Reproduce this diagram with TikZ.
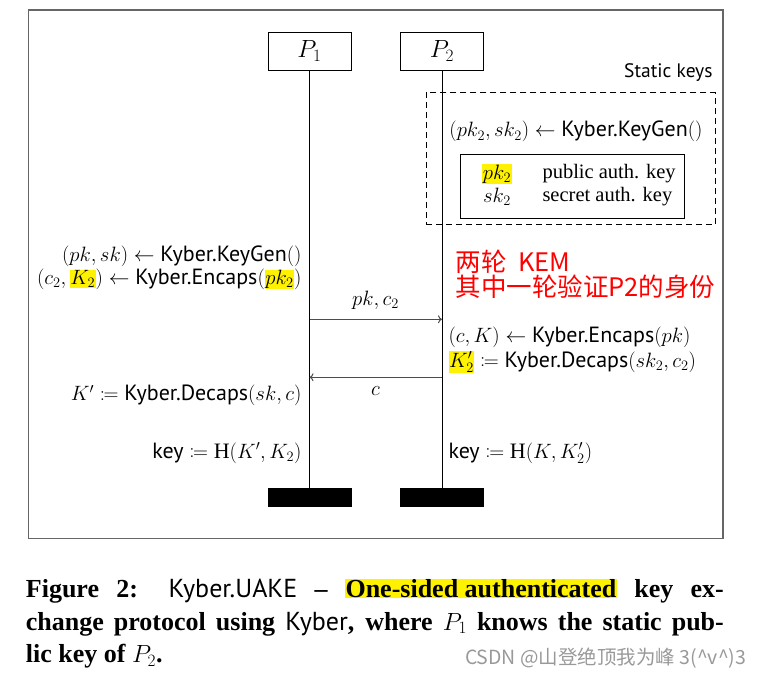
\documentclass[tikz,border=0pt]{standalone}
\usepackage{mathtools}
\usepackage{fontspec}
\setmainfont{Liberation Serif}
\setsansfont{PT Sans}
\newfontfamily\cjk{Noto Sans CJK SC}
\usepackage{tikz}
\usetikzlibrary{arrows.meta}
\newcommand{\kyb}[1]{\textsf{Kyber.#1}}
\newcommand{\hlt}[1]{{\setlength{\fboxsep}{0.5pt}\colorbox{yellow}{#1}}}

\begin{document}
\begin{tikzpicture}[x=1pt, y=-1pt, line width=1pt,
    party/.style={draw, minimum width=83pt, minimum height=38pt, inner sep=0pt, font=\fontsize{24}{28}\selectfont},
    endbar/.style={fill=black, minimum width=84pt, minimum height=18.5pt, inner sep=0pt},
    lbl/.style={inner sep=0pt, font=\fontsize{22}{26}\selectfont},
    msg/.style={draw=black!70, -{To[length=4pt,width=8pt]}}]
    \useasboundingbox (0,0) rectangle (766,680);
    \draw[black!60, line width=1.4pt] (28.5,10) rectangle (723,538.5);

    % parties and lifelines
    \node[party] (P1) at (309.5,51) {$P_1$};
    \node[party] (P2) at (442,51) {$P_2$};
    \node[endbar] (E1) at (309.5,497.5) {};
    \node[endbar] (E2) at (442,497.5) {};
    \draw (P1) -- (E1);
    \draw (P2) -- (E2);

    % static keys of P2
    \node[lbl, anchor=east, font=\fontsize{19.5}{23}\selectfont\sffamily] (SK) at (713,73) {Static keys};
    \node[draw, dash pattern=on 6pt off 4pt, minimum width=289.4pt, minimum height=131.6pt] (statbox) at (570.7,158.5) {};
    \node[lbl] (KG2) at (576,131.7) {$(pk_2, sk_2) \leftarrow \kyb{KeyGen}()$};
    \node[draw, minimum width=224pt, minimum height=64.3pt] (auth) at (572,186.2) {};
    \node[lbl] (pkt) at (497,174) {\hlt{$pk_2$}};
    \node[lbl] (skt) at (497,197) {$sk_2$};
    \node[lbl, anchor=west, font=\fontsize{20.5}{24}\selectfont] (pkd) at (542,174) {public auth. key};
    \node[lbl, anchor=west, font=\fontsize{20.5}{24}\selectfont] (skd) at (542,197) {secret auth. key};

    % P1 side
    \node[lbl, anchor=east] (A1) at (302,256) {$(pk, sk) \leftarrow \kyb{KeyGen}()$};
    \node[lbl, anchor=east] (A2) at (302,279.3) {$(c_2, \hlt{$K_2$}) \leftarrow \kyb{Encaps}(\hlt{$pk_2$})$};
    \node[lbl, anchor=east] (A3) at (302,395.7) {$K' \coloneqq \kyb{Decaps}(sk, c)$};
    \node[lbl, anchor=east] (A4) at (302,453.3) {$\textsf{key} \coloneqq \mathrm{H}(K', K_2)$};

    % P2 side
    \node[lbl, anchor=west] (B1) at (448,337.3) {$(c, K) \leftarrow \kyb{Encaps}(pk)$};
    \node[lbl, anchor=west] (B2) at (448,362.3) {$\hlt{$K_2'$} \coloneqq \kyb{Decaps}(sk_2, c_2)$};
    \node[lbl, anchor=west] (B3) at (448,453.3) {$\textsf{key} \coloneqq \mathrm{H}(K, K_2')$};

    % messages
    \coordinate (m1s) at (309.5,319.3);
    \coordinate (m1e) at (442,319.3);
    \coordinate (m2s) at (442,377.3);
    \coordinate (m2e) at (309.5,377.3);
    \draw[msg] (m1s) -- (m1e);
    \draw[msg] (m2s) -- (m2e);
    \node[lbl] (L1) at (375.5,300) {$pk, c_2$};
    \node[lbl] (L2) at (375.5,391) {$c$};

    % note
    \node[lbl, anchor=west, align=left, text=red, font=\cjk\fontsize{25.5}{25}\selectfont] (note) at (455,274.2) {两轮\hspace{12pt}KEM\\其中一轮验证P2的身份};

    % caption
    \node[inner sep=0pt, anchor=north west, text width=698pt, align=justify, font=\fontsize{26}{32.5}\selectfont\bfseries] (cap) at (25.4,578.5) {Figure 2: \textmd{\sffamily Kyber.UAKE} -- \hlt{One-sided authenticated} key ex-\linebreak change protocol using \textmd{\sffamily Kyber}, where $P_1$ knows the static pub-\linebreak lic key of $P_2$.};
    \node[inner sep=0pt, anchor=west, text=black!40, font=\cjk\fontsize{19.5}{22}\selectfont] (wm) at (464.5,658.3) {CSDN @山登绝顶我为峰 3(\textasciicircum v\textasciicircum)3};
\end{tikzpicture}
\end{document}
